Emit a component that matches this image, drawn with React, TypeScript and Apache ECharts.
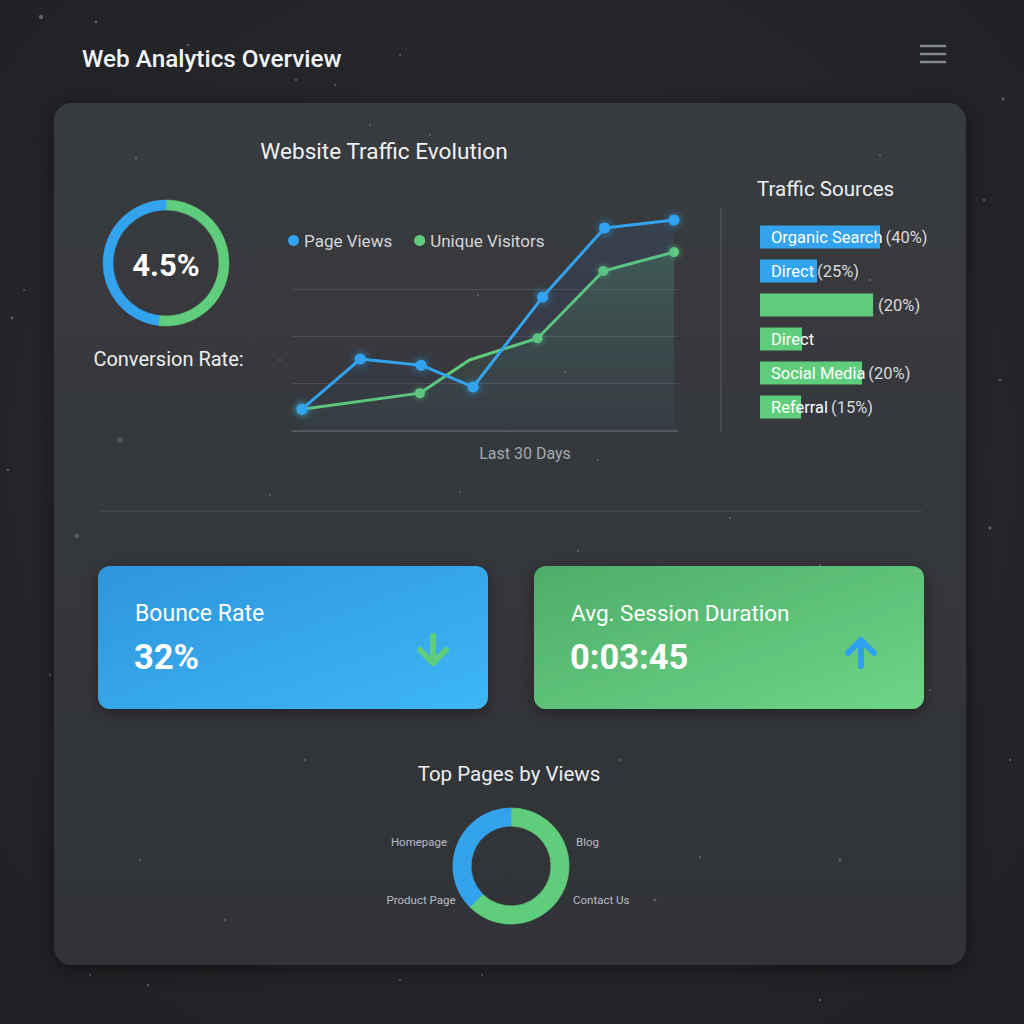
import React, { useEffect, useRef } from "react";
import * as echarts from "echarts";

// ---------- Data ----------
const dashboardTitle = "Web Analytics Overview";

const conversionLabel = "4.5%";
const conversionCaption = "Conversion Rate:";
const conversionSegments = [52, 48]; // green, blue

const trafficTitle = "Website Traffic Evolution";
const trafficAxisName = "Last 30 Days";
const pageViewDays = [0, 4.7, 9.6, 13.8, 19.4, 24.4, 30];
const pageViews = [46, 152, 139, 93, 283, 429, 446];
const visitorDays = [0, 9.5, 13.5, 19.0, 24.3, 30];
const uniqueVisitors = [46, 80, 150, 196, 338, 378];
const visitorMarkerShown = [true, true, false, true, true, true];

const sourcesTitle = "Traffic Sources";
const sourceNames = ["Organic Search", "Direct", "", "Direct", "Social Media", "Referral"];
const sourcePct = ["(40%)", "(25%)", "(20%)", "", "(20%)", "(15%)"];
const sourceBarLength = [40, 19, 37.7, 14, 34, 13.7];
const sourceColorKey = ["blue", "blue", "green", "green", "green", "green"];

const bounceTitle = "Bounce Rate";
const bounceValue = "32%";
const sessionTitle = "Avg. Session Duration";
const sessionValue = "0:03:45";

const pagesTitle = "Top Pages by Views";
const pageNames = ["Blog", "Contact Us", "Product Page", "Homepage"];
const pageShares = [35, 27.5, 15, 22.5];
const pageColorKey = ["green", "green", "blue", "blue"];

// decorative star dots
const stars: [number, number, number][] = [
  [41, 17, 2.2], [96, 22, 1.4], [188, 45, 1.2], [296, 80, 1.2], [400, 55, 1], [335, 85, 1],
  [12, 318, 1.4], [24, 290, 1], [77, 536, 2.2], [8, 470, 1.2], [50, 675, 1.2],
  [1003, 99, 1.6], [984, 200, 1.2], [1000, 380, 1.2], [990, 528, 1.6], [1010, 760, 1.2],
  [148, 985, 1.2], [90, 975, 1], [400, 980, 1.2], [482, 975, 1], [820, 1000, 1.2], [960, 940, 1.6],
  [136, 158, 1.4], [370, 125, 1.2], [430, 135, 1.2], [612, 108, 1.2], [880, 155, 1.2], [870, 280, 1.4],
  [120, 440, 2.4], [280, 360, 1.2], [478, 295, 1.2], [565, 372, 1.2], [598, 460, 1.2],
  [460, 492, 1.2], [270, 495, 1.2], [730, 518, 1.2], [820, 565, 1.2], [578, 551, 1.2],
  [140, 660, 1.2], [305, 760, 1.2], [620, 760, 1.2], [700, 857, 1.2], [655, 900, 1.6],
  [140, 860, 1.2], [225, 920, 1.2], [840, 860, 1.6], [930, 690, 1.2],
];

const BLUE = "#33a3ee";
const GREEN = "#5fcd7b";
const colorOf = (k: string) => (k === "blue" ? BLUE : GREEN);
const FONT = "Roboto, 'Noto Sans', sans-serif";

export default function App() {
  const ref = useRef<HTMLDivElement>(null);

  useEffect(() => {
    document.body.style.margin = "0";
    if (!ref.current) return;
    const chart = echarts.init(ref.current, undefined, { renderer: "svg" });

    const graphics: any[] = [];
    // background
    graphics.push({
      type: "rect", z: -20, silent: true,
      shape: { x: 0, y: 0, width: 1024, height: 1024 },
      style: {
        fill: new echarts.graphic.RadialGradient(0.5, 0.45, 0.75, [
          { offset: 0, color: "#2c2e32" },
          { offset: 1, color: "#1f2023" },
        ]),
      },
    });
    stars.forEach(([x, y, r]) => {
      graphics.push({
        type: "circle", z: -19, silent: true,
        shape: { cx: x, cy: y, r },
        style: { fill: "rgba(200,205,215,0.35)" },
      });
    });
    // panel
    graphics.push({
      type: "rect", z: -18, silent: true,
      shape: { x: 54, y: 103, width: 912, height: 862, r: 18 },
      style: {
        fill: new echarts.graphic.LinearGradient(0, 0, 0, 1, [
          { offset: 0, color: "#393b3f" },
          { offset: 1, color: "#313337" },
        ]),
        shadowBlur: 24, shadowColor: "rgba(0,0,0,0.45)", shadowOffsetY: 4,
      },
    });
    stars.forEach(([x, y, r]) => {
      if (x > 60 && x < 960 && y > 110 && y < 958) {
        graphics.push({
          type: "circle", z: -17, silent: true,
          shape: { cx: x, cy: y, r },
          style: { fill: "rgba(200,205,215,0.25)" },
        });
      }
    });
    // header
    graphics.push({
      type: "text", x: 82, y: 58,
      style: { text: dashboardTitle, fill: "#f2f3f5", font: `500 24.3px ${FONT}`, textVerticalAlign: "middle" },
    });
    [46, 54, 62].forEach((y) => {
      graphics.push({
        type: "line", shape: { x1: 920, y1: y, x2: 946, y2: y },
        style: { stroke: "#85888d", lineWidth: 2.5 },
      });
    });
    // conversion
    graphics.push({
      type: "text", x: 166, y: 265,
      style: { text: conversionLabel, fill: "#ffffff", font: `bold 31px ${FONT}`, textAlign: "center", textVerticalAlign: "middle" },
    });
    graphics.push({
      type: "text", x: 168.5, y: 359,
      style: { text: conversionCaption, fill: "#eceef0", font: `20px ${FONT}`, textAlign: "center", textVerticalAlign: "middle" },
    });
    // line chart title + axis name
    graphics.push({
      type: "text", x: 384, y: 151,
      style: { text: trafficTitle, fill: "#f0f1f3", font: `22.6px ${FONT}`, textAlign: "center", textVerticalAlign: "middle" },
    });
    graphics.push({
      type: "text", x: 525, y: 453,
      style: { text: trafficAxisName, fill: "#a6a9ae", font: `16px ${FONT}`, textAlign: "center", textVerticalAlign: "middle" },
    });
    // vertical separator
    graphics.push({
      type: "line", shape: { x1: 721, y1: 207, x2: 721, y2: 432 },
      style: { stroke: "#55585c", lineWidth: 1.2 },
    });
    graphics.push({
      type: "text", x: 757, y: 189,
      style: { text: sourcesTitle, fill: "#eceef0", font: `20.6px ${FONT}`, textVerticalAlign: "middle" },
    });
    // horizontal separator
    graphics.push({
      type: "line", shape: { x1: 99, y1: 511, x2: 922, y2: 511 },
      style: { stroke: "#4b4e52", lineWidth: 1.2 },
    });
    // cards
    const card = (x: number, c1: string, c2: string, title: string, value: string, titleSize: number) => {
      graphics.push({
        type: "rect",
        shape: { x, y: 566, width: 390, height: 143, r: 12 },
        style: {
          fill: new echarts.graphic.LinearGradient(0, 0, 1, 1, [
            { offset: 0, color: c1 },
            { offset: 1, color: c2 },
          ]),
          shadowBlur: 16, shadowColor: "rgba(0,0,0,0.35)", shadowOffsetY: 4,
        },
      });
      graphics.push({
        type: "text", x: x + 37, y: 613,
        style: { text: title, fill: "#ffffff", font: `${titleSize}px ${FONT}`, textVerticalAlign: "middle" },
      });
      graphics.push({
        type: "text", x: x + 36, y: 657,
        style: { text: value, fill: "#ffffff", font: `bold 34.5px ${FONT}`, textVerticalAlign: "middle" },
      });
    };
    card(98, "#2e96db", "#3db6f6", bounceTitle, bounceValue, 23);
    card(534, "#4fad68", "#6dd588", sessionTitle, sessionValue, 22.5);
    // arrows
    graphics.push({
      type: "line", shape: { x1: 433, y1: 636, x2: 433, y2: 662 },
      style: { stroke: GREEN, lineWidth: 6, lineCap: "round" },
    });
    graphics.push({
      type: "polyline", shape: { points: [[420, 650], [433, 663], [446, 650]] },
      style: { stroke: GREEN, lineWidth: 6, lineCap: "round", lineJoin: "round", fill: "none" },
    });
    graphics.push({
      type: "line", shape: { x1: 861, y1: 641, x2: 861, y2: 666 },
      style: { stroke: "#2f9ff0", lineWidth: 6, lineCap: "round" },
    });
    graphics.push({
      type: "polyline", shape: { points: [[848, 653], [861, 640], [874, 653]] },
      style: { stroke: "#2f9ff0", lineWidth: 6, lineCap: "round", lineJoin: "round", fill: "none" },
    });
    // top pages
    graphics.push({
      type: "text", x: 509, y: 774,
      style: { text: pagesTitle, fill: "#eceef0", font: `20.5px ${FONT}`, textAlign: "center", textVerticalAlign: "middle" },
    });
    const pageLabelPos: Record<string, [number, number, string]> = {
      Homepage: [419, 842, "center"],
      "Product Page": [421, 900, "center"],
      Blog: [576, 842, "left"],
      "Contact Us": [573, 900, "left"],
    };
    pageNames.forEach((n) => {
      const p = pageLabelPos[n];
      graphics.push({
        type: "text", x: p[0], y: p[1],
        style: { text: n, fill: "#b9bcc1", font: `11.5px ${FONT}`, textAlign: p[2], textVerticalAlign: "middle" },
      });
    });

    const option: any = {
      animation: false,
      textStyle: { fontFamily: FONT },
      graphic: { elements: graphics },
      legend: {
        data: ["Page Views", "Unique Visitors"],
        left: 283, top: 227,
        icon: "circle", itemWidth: 11, itemHeight: 11, itemGap: 22,
        textStyle: { color: "#d4d6da", fontSize: 17, fontFamily: FONT },
      },
      grid: [
        { left: 292, right: 346, top: 289, bottom: 593 },
        { left: 760, right: 84, top: 220, bottom: 600 },
      ],
      xAxis: [
        {
          type: "value", gridIndex: 0, min: -0.806, max: 30.32,
          axisLabel: { show: false }, axisTick: { show: false }, splitLine: { show: false },
          axisLine: { show: true, lineStyle: { color: "#5a5d61", width: 1.5 } },
        },
        {
          type: "value", gridIndex: 1, min: 0, max: 60,
          show: false,
        },
      ],
      yAxis: [
        {
          type: "value", gridIndex: 0, min: 0, max: 300, interval: 100,
          axisLabel: { show: false }, axisTick: { show: false }, axisLine: { show: false },
          splitLine: { show: true, lineStyle: { color: "#4a4d51", width: 1.2 } },
        },
        {
          type: "category", gridIndex: 1, inverse: true,
          data: sourceNames.map((_, i) => String(i)),
          show: false,
        },
      ],
      series: [
        {
          type: "pie", name: "conversion", silent: true,
          center: [166, 263], radius: [53, 63], startAngle: 90, clockwise: true,
          label: { show: false }, labelLine: { show: false },
          data: conversionSegments.map((v, i) => {
            const c = i === 0 ? GREEN : BLUE;
            return {
              value: v, name: i === 0 ? "converted" : "other",
              itemStyle: { color: c, borderColor: c, borderWidth: 0.5 },
            };
          }),
        },
        {
          type: "line", name: "Page Views", xAxisIndex: 0, yAxisIndex: 0,
          clip: false, z: 4,
          data: pageViewDays.map((d, i) => [d, pageViews[i]]),
          color: BLUE,
          symbol: "circle", symbolSize: 11,
          lineStyle: { color: BLUE, width: 3 },
          itemStyle: { color: BLUE, shadowBlur: 8, shadowColor: "rgba(51,163,238,0.8)" },
          areaStyle: {
            color: new echarts.graphic.LinearGradient(0, 0, 0, 1, [
              { offset: 0, color: "rgba(50,110,200,0.18)" },
              { offset: 1, color: "rgba(50,80,160,0.06)" },
            ]),
          },
        },
        {
          type: "line", name: "Unique Visitors", xAxisIndex: 0, yAxisIndex: 0,
          clip: false, z: 3,
          data: visitorDays.map((d, i) => ({
            value: [d, uniqueVisitors[i]],
            symbolSize: visitorMarkerShown[i] ? 10 : 0,
          })),
          color: GREEN,
          symbol: "circle",
          lineStyle: { color: GREEN, width: 3 },
          itemStyle: { color: GREEN, shadowBlur: 6, shadowColor: "rgba(95,205,123,0.7)" },
          areaStyle: {
            color: new echarts.graphic.LinearGradient(0, 0, 0, 1, [
              { offset: 0, color: "rgba(95,205,123,0.28)" },
              { offset: 1, color: "rgba(95,205,123,0.03)" },
            ]),
          },
        },
        {
          type: "bar", name: "sources", xAxisIndex: 1, yAxisIndex: 1, silent: true,
          barWidth: 23,
          data: sourceBarLength.map((v, i) => {
            const name = sourceNames[i];
            const pct = sourcePct[i];
            const text = name ? (pct ? `{n|${name}} {p|${pct}}` : `{n|${name}}`) : `{p|${pct}}`;
            return {
              value: v,
              itemStyle: { color: colorOf(sourceColorKey[i]) },
              label: {
                show: true,
                position: name ? "insideLeft" : "right",
                distance: name ? 11 : 5,
                formatter: text,
                rich: {
                  n: { color: "#ffffff", fontSize: 16.5, fontFamily: FONT },
                  p: { color: "#d8dadd", fontSize: 16.5, fontFamily: FONT },
                },
              },
            };
          }),
        },
        {
          type: "pie", name: "pages", silent: true,
          center: [511, 866], radius: [40, 58], startAngle: 90, clockwise: true,
          label: { show: false }, labelLine: { show: false },
          data: pageNames.map((n, i) => {
            const c = colorOf(pageColorKey[i]);
            return {
              name: n, value: pageShares[i],
              itemStyle: { color: c, borderColor: c, borderWidth: 0.8 },
            };
          }),
        },
      ],
    };
    chart.setOption(option);
    return () => chart.dispose();
  }, []);

  return <div ref={ref} style={{ width: 1024, height: 1024 }} />;
}
